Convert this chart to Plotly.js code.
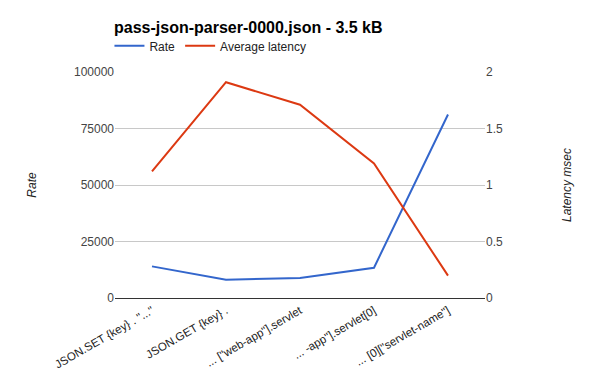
<!DOCTYPE html>
<html>
<head>
<meta charset="utf-8">
<script src="https://cdn.plot.ly/plotly-3.0.1.min.js"></script>
<style>html,body{margin:0;padding:0;background:#fff;}#chart{width:600px;height:371px;}</style>
</head>
<body>
<div id="chart"></div>
<script>
const categories = ['JSON.SET {key} . "..."', 'JSON.GET {key} .', '... ["web-app"].servlet', '... -app"].servlet[0]', '... [0]["servlet-name"]'];
const rate = [14000, 8100, 8870, 13400, 81200];
const latency = [1.12, 1.91, 1.71, 1.19, 0.198];
const rateTicks = [0, 25000, 50000, 75000, 100000];
const latencyTicks = [0, 0.5, 1, 1.5, 2];

const font = 'Arial, "Liberation Sans", sans-serif';
const traces = [
  {x: categories, y: rate, name: 'Rate', type: 'scatter', mode: 'lines',
   line: {color: '#3366cc', width: 2}, yaxis: 'y'},
  {x: categories, y: latency, name: 'Average latency', type: 'scatter', mode: 'lines',
   line: {color: '#dc3912', width: 2}, yaxis: 'y2'}
];
const layout = {
  width: 600, height: 371,
  margin: {l: 115, r: 115, t: 72, b: 73},
  paper_bgcolor: '#fff', plot_bgcolor: '#fff',
  font: {family: font, size: 12, color: '#444'},
  title: {text: '<b>pass-json-parser-0000.json - 3.5 kB</b>', x: 114/600, xref: 'container', xanchor: 'left',
          y: 1 - 27/371, yref: 'container', yanchor: 'middle',
          font: {family: font, size: 16, color: '#000'}},
  showlegend: true,
  legend: {orientation: 'h', x: -0.015, xanchor: 'left', y: 1.18, yanchor: 'top',
           font: {family: font, size: 12, color: '#222'}, itemwidth: 30},
  xaxis: {type: 'category', range: [-0.5, 4.5], tickangle: -30, showgrid: false,
          ticks: '', showline: false, zeroline: false, ticklabelstandoff: 3,
          tickfont: {size: 11.5, color: '#222'}},
  yaxis: {range: [0, 100000], tickvals: rateTicks, ticktext: rateTicks.map(String),
          showgrid: true, gridcolor: '#c8c8c8', gridwidth: 1, zeroline: true, zerolinecolor: '#333', zerolinewidth: 1,
          ticks: '', tickfont: {size: 12, color: '#444'},
          title: {text: '<i>Rate</i>', standoff: 34, font: {size: 12, color: '#222'}}},
  yaxis2: {overlaying: 'y', side: 'right', range: [0, 2], tickvals: latencyTicks,
           ticktext: latencyTicks.map(String), showgrid: false, zeroline: false,
           tickfont: {size: 12, color: '#444'},
           title: {text: '<i>Latency msec</i>', standoff: 60, font: {size: 12, color: '#222'}}}
};
Plotly.newPlot('chart', traces, layout, {displayModeBar: false, staticPlot: true});
</script>
</body>
</html>
